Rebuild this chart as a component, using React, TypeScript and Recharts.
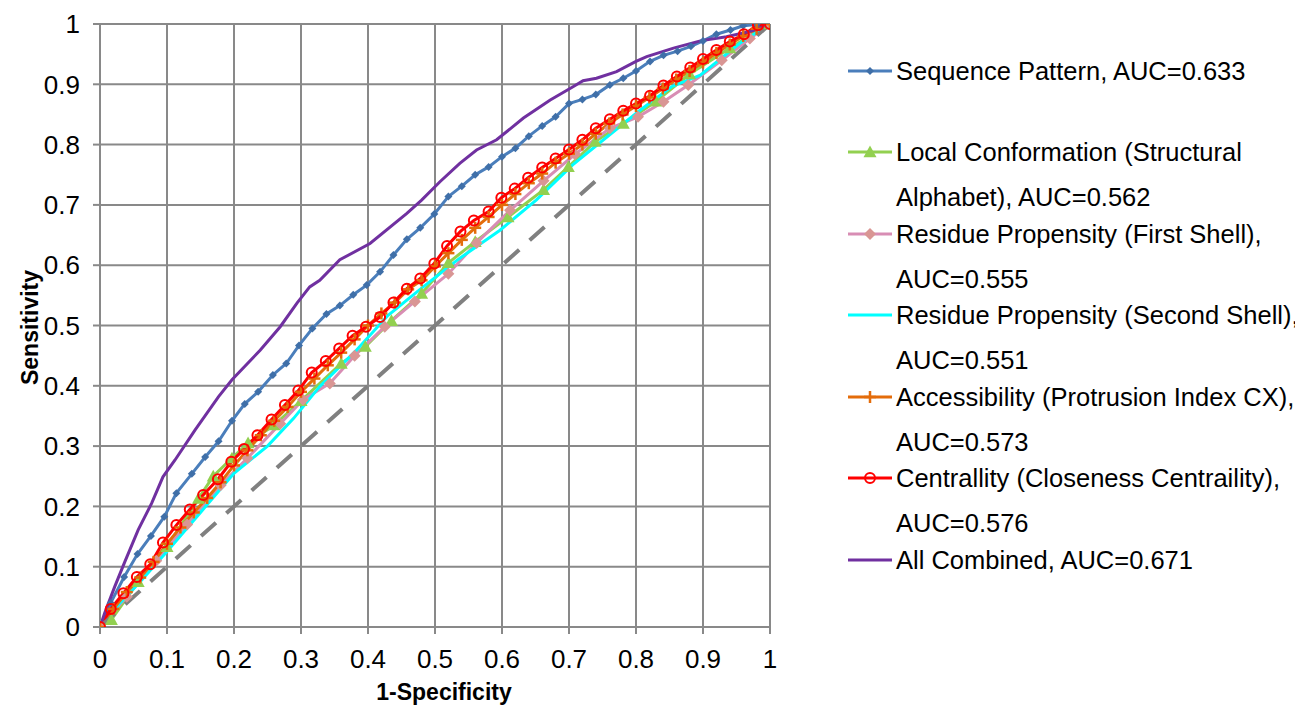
import React from "react";
import { LineChart, Line, XAxis, YAxis, CartesianGrid } from "recharts";

type P = { x: number; y: number };
const pts = (a: number[][]): P[] => a.map(([x, y]) => ({ x, y }));

const xTicks = [0, 0.1, 0.2, 0.3, 0.4, 0.5, 0.6, 0.7, 0.8, 0.9, 1];
const yTicks = [0, 0.1, 0.2, 0.3, 0.4, 0.5, 0.6, 0.7, 0.8, 0.9, 1];

const sequencePattern = pts([
  [0, 0], [0.016, 0.04], [0.036, 0.083], [0.056, 0.121], [0.076, 0.151], [0.096, 0.183],
  [0.114, 0.222], [0.137, 0.254], [0.157, 0.282], [0.177, 0.308], [0.197, 0.342], [0.216, 0.37],
  [0.236, 0.39], [0.258, 0.418], [0.278, 0.437], [0.297, 0.467], [0.317, 0.495], [0.338, 0.519],
  [0.358, 0.533], [0.378, 0.551], [0.398, 0.567], [0.418, 0.589], [0.438, 0.617], [0.458, 0.643],
  [0.478, 0.662], [0.499, 0.685], [0.52, 0.714], [0.54, 0.731], [0.56, 0.75], [0.58, 0.763],
  [0.6, 0.78], [0.62, 0.794], [0.64, 0.814], [0.66, 0.831], [0.68, 0.846], [0.7, 0.868],
  [0.72, 0.875], [0.74, 0.883], [0.761, 0.899], [0.781, 0.91], [0.8, 0.922], [0.821, 0.938],
  [0.841, 0.948], [0.862, 0.955], [0.882, 0.963], [0.9, 0.972], [0.92, 0.983], [0.941, 0.99],
  [0.96, 0.997], [0.98, 0.999], [1, 1],
]);

const localConformation = pts([
  [0, 0], [0.017, 0.012], [0.057, 0.075], [0.1, 0.133], [0.147, 0.213], [0.169, 0.25],
  [0.197, 0.28], [0.221, 0.305], [0.26, 0.335], [0.3, 0.375], [0.36, 0.437], [0.396, 0.465],
  [0.435, 0.508], [0.48, 0.553], [0.52, 0.604], [0.56, 0.639], [0.609, 0.68], [0.662, 0.725],
  [0.699, 0.763], [0.739, 0.805], [0.781, 0.835], [0.83, 0.872], [0.88, 0.917], [0.94, 0.96], [1, 1],
]);

const residueFirst = pts([
  [0, 0], [0.04, 0.05], [0.084, 0.11], [0.13, 0.17], [0.18, 0.235], [0.22, 0.28],
  [0.269, 0.337], [0.303, 0.377], [0.343, 0.404], [0.38, 0.45], [0.425, 0.498], [0.47, 0.54],
  [0.52, 0.586], [0.562, 0.637], [0.612, 0.691], [0.662, 0.74], [0.709, 0.784], [0.761, 0.827],
  [0.803, 0.846], [0.841, 0.871], [0.878, 0.899], [0.928, 0.94], [0.97, 0.976], [1, 1],
]);

const residueSecond = pts([
  [0, 0], [0.03, 0.04], [0.06, 0.075], [0.1, 0.125], [0.15, 0.19], [0.2, 0.255], [0.25, 0.3],
  [0.289, 0.346], [0.328, 0.399], [0.381, 0.457], [0.43, 0.517], [0.48, 0.562], [0.535, 0.61],
  [0.597, 0.658], [0.651, 0.708], [0.705, 0.766], [0.757, 0.813], [0.806, 0.857], [0.853, 0.896],
  [0.896, 0.915], [0.955, 0.968], [1, 1],
]);

const accessibility = pts([
  [0, 0], [0.02, 0.03], [0.04, 0.058], [0.06, 0.082], [0.08, 0.108], [0.1, 0.138], [0.12, 0.165],
  [0.14, 0.19], [0.16, 0.214], [0.18, 0.24], [0.2, 0.268], [0.22, 0.293], [0.24, 0.318],
  [0.26, 0.342], [0.28, 0.365], [0.3, 0.39], [0.32, 0.412], [0.34, 0.434], [0.36, 0.455],
  [0.38, 0.477], [0.4, 0.5], [0.42, 0.52], [0.44, 0.538], [0.46, 0.56], [0.48, 0.575],
  [0.5, 0.598], [0.52, 0.62], [0.54, 0.642], [0.56, 0.662], [0.58, 0.68], [0.6, 0.7],
  [0.62, 0.718], [0.64, 0.736], [0.66, 0.752], [0.68, 0.77], [0.7, 0.785], [0.72, 0.8],
  [0.74, 0.818], [0.76, 0.835], [0.78, 0.85], [0.8, 0.864], [0.82, 0.878], [0.84, 0.893],
  [0.86, 0.908], [0.88, 0.922], [0.9, 0.936], [0.92, 0.952], [0.94, 0.966], [0.96, 0.98],
  [0.98, 0.992], [1, 1],
]);

const centrality = pts([
  [0, 0], [0.016, 0.03], [0.035, 0.056], [0.055, 0.083], [0.075, 0.104], [0.094, 0.14],
  [0.114, 0.169], [0.134, 0.195], [0.154, 0.219], [0.176, 0.245], [0.196, 0.274], [0.215, 0.295],
  [0.235, 0.318], [0.256, 0.344], [0.276, 0.368], [0.296, 0.392], [0.316, 0.422], [0.337, 0.441],
  [0.357, 0.462], [0.377, 0.483], [0.397, 0.498], [0.418, 0.514], [0.438, 0.538], [0.458, 0.561],
  [0.478, 0.578], [0.499, 0.603], [0.518, 0.632], [0.538, 0.656], [0.558, 0.674], [0.58, 0.689],
  [0.599, 0.712], [0.619, 0.727], [0.639, 0.745], [0.66, 0.762], [0.68, 0.777], [0.7, 0.792],
  [0.72, 0.808], [0.74, 0.827], [0.761, 0.842], [0.781, 0.856], [0.8, 0.868], [0.821, 0.881],
  [0.841, 0.898], [0.861, 0.913], [0.881, 0.928], [0.9, 0.942], [0.92, 0.957], [0.94, 0.971],
  [0.961, 0.983], [0.982, 0.998], [1, 1],
]);

const allCombined = pts([
  [0, 0], [0.007, 0.023], [0.022, 0.067], [0.037, 0.108], [0.057, 0.161], [0.077, 0.205],
  [0.094, 0.249], [0.112, 0.277], [0.142, 0.327], [0.177, 0.382], [0.197, 0.41], [0.239, 0.459],
  [0.269, 0.498], [0.294, 0.537], [0.313, 0.564], [0.328, 0.575], [0.358, 0.609], [0.403, 0.636],
  [0.458, 0.686], [0.48, 0.708], [0.507, 0.738], [0.537, 0.769], [0.562, 0.791], [0.592, 0.808],
  [0.632, 0.844], [0.672, 0.874], [0.706, 0.896], [0.721, 0.906], [0.741, 0.91], [0.771, 0.921],
  [0.8, 0.938], [0.816, 0.946], [0.856, 0.96], [0.896, 0.972], [0.935, 0.979], [0.975, 0.989], [1, 1],
]);

const diagonal = pts([[0, 0], [1, 1]]);

type MarkerKind = "smallDiamond" | "triangle" | "diamond" | "none" | "plus" | "circle";

const series: { key: string; lines: [string, string]; color: string; markerColor: string; marker: MarkerKind; data: P[] }[] = [
  { key: "seq", lines: ["Sequence Pattern, AUC=0.633", ""], color: "#4a7ebb", markerColor: "#3f6fa8", marker: "smallDiamond", data: sequencePattern },
  { key: "loc", lines: ["Local Conformation (Structural", "Alphabet), AUC=0.562"], color: "#92d050", markerColor: "#92d050", marker: "triangle", data: localConformation },
  { key: "rp1", lines: ["Residue Propensity (First Shell),", "AUC=0.555"], color: "#d88db4", markerColor: "#d99694", marker: "diamond", data: residueFirst },
  { key: "rp2", lines: ["Residue Propensity (Second Shell),", "AUC=0.551"], color: "#00ffff", markerColor: "#00ffff", marker: "none", data: residueSecond },
  { key: "acc", lines: ["Accessibility (Protrusion Index CX),", "AUC=0.573"], color: "#e46c0a", markerColor: "#e46c0a", marker: "plus", data: accessibility },
  { key: "cen", lines: ["Centrallity (Closeness Centraility),", "AUC=0.576"], color: "#ff0000", markerColor: "#ff0000", marker: "circle", data: centrality },
  { key: "all", lines: ["All Combined, AUC=0.671", ""], color: "#7030a0", markerColor: "#7030a0", marker: "none", data: allCombined },
];

function MarkerShape({ kind, cx, cy, color }: { kind: MarkerKind; cx: number; cy: number; color: string }) {
  if (cx == null || cy == null || isNaN(cx) || isNaN(cy)) return null;
  switch (kind) {
    case "smallDiamond": {
      const s = 4;
      return <path d={`M${cx},${cy - s}L${cx + s},${cy}L${cx},${cy + s}L${cx - s},${cy}Z`} fill={color} />;
    }
    case "diamond": {
      const s = 6;
      return <path d={`M${cx},${cy - s}L${cx + s},${cy}L${cx},${cy + s}L${cx - s},${cy}Z`} fill={color} />;
    }
    case "triangle": {
      const s = 6.5;
      return <path d={`M${cx},${cy - s}L${cx + s},${cy + s * 0.8}L${cx - s},${cy + s * 0.8}Z`} fill={color} />;
    }
    case "plus": {
      const s = 6;
      return (
        <g stroke={color} strokeWidth={2.5}>
          <line x1={cx - s} y1={cy} x2={cx + s} y2={cy} />
          <line x1={cx} y1={cy - s} x2={cx} y2={cy + s} />
        </g>
      );
    }
    case "circle":
      return <circle cx={cx} cy={cy} r={5} fill="none" stroke={color} strokeWidth={2} />;
    default:
      return null;
  }
}

const FONT = "Arial, 'Liberation Sans', Helvetica, sans-serif";
const GRID = "#898989";
const W = 1290;
const H = 699;

function XTitle(props: any) {
  const vb = props.viewBox || { x: 0, width: 0, y: 0, height: 0 };
  return (
    <text x={vb.x + vb.width / 2 + 9} y={692} textAnchor="middle" fontFamily={FONT} fontWeight="bold" fontSize={23} fill="#000">
      1-Specificity
    </text>
  );
}

function YTitle(props: any) {
  const vb = props.viewBox || { x: 0, width: 0, y: 0, height: 0 };
  const cy = vb.y + vb.height / 2 + 2;
  return (
    <text x={22} y={cy} transform={`rotate(-90, 22, ${cy})`} textAnchor="middle" dominantBaseline="central" fontFamily={FONT} fontWeight="bold" fontSize={23} fill="#000">
      Sensitivity
    </text>
  );
}

const fmt = (v: number) => String(v);

export default function App() {
  const legendTop = 62.7;
  const rowGap = 81.5;
  const secondOffset = 45;
  return (
    <div style={{ position: "relative", width: W, height: H, fontFamily: FONT }}>
      <LineChart width={W} height={H} margin={{ top: 16, right: 528, bottom: 0, left: 0 }}>
        <CartesianGrid stroke={GRID} strokeWidth={2} />
        <XAxis
          type="number"
          dataKey="x"
          domain={[0, 1]}
          ticks={xTicks}
          interval={0}
          height={80}
          tickSize={7}
          tickMargin={16}
          tickFormatter={fmt}
          axisLine={{ stroke: GRID, strokeWidth: 2 }}
          tickLine={{ stroke: GRID, strokeWidth: 2 }}
          tick={{ fill: "#000", fontSize: 26, fontFamily: FONT }}
          label={<XTitle />}
          allowDataOverflow
        />
        <YAxis
          type="number"
          domain={[0, 1]}
          ticks={yTicks}
          interval={0}
          width={92}
          tickSize={7}
          tickMargin={13}
          tickFormatter={fmt}
          axisLine={{ stroke: GRID, strokeWidth: 2 }}
          tickLine={{ stroke: GRID, strokeWidth: 2 }}
          tick={{ fill: "#000", fontSize: 26, fontFamily: FONT }}
          label={<YTitle />}
          allowDataOverflow
        />
        {series.map((s) => (
          <Line
            key={s.key}
            data={s.data}
            dataKey="y"
            type="linear"
            stroke={s.color}
            strokeWidth={3}
            isAnimationActive={false}
            dot={
              s.marker === "none"
                ? false
                : (p: any) => <MarkerShape key={`${s.key}-${p.index}`} kind={s.marker} cx={p.cx} cy={p.cy} color={s.markerColor} />
            }
            activeDot={false}
          />
        ))}
        <Line
          data={diagonal}
          dataKey="y"
          type="linear"
          stroke="#808080"
          strokeWidth={4}
          strokeDasharray="20 14"
          dot={false}
          activeDot={false}
          isAnimationActive={false}
        />
      </LineChart>
      {series.map((s, i) => {
        const cy = legendTop + rowGap * i;
        return (
          <React.Fragment key={s.key}>
            <svg style={{ position: "absolute", left: 838, top: cy - 10 }} width={48} height={20}>
              <line x1={2} y1={10} x2={46} y2={10} stroke={s.color} strokeWidth={3} />
              <MarkerShape kind={s.marker} cx={24} cy={10} color={s.markerColor} />
            </svg>
            <div style={{ position: "absolute", left: 888, top: cy - 15, lineHeight: "30px", fontSize: 25.5, whiteSpace: "nowrap", color: "#000" }}>
              {s.lines[0]}
            </div>
            {s.lines[1] ? (
              <div style={{ position: "absolute", left: 888, top: cy + secondOffset - 15, lineHeight: "30px", fontSize: 25.5, whiteSpace: "nowrap", color: "#000" }}>
                {s.lines[1]}
              </div>
            ) : null}
          </React.Fragment>
        );
      })}
    </div>
  );
}
